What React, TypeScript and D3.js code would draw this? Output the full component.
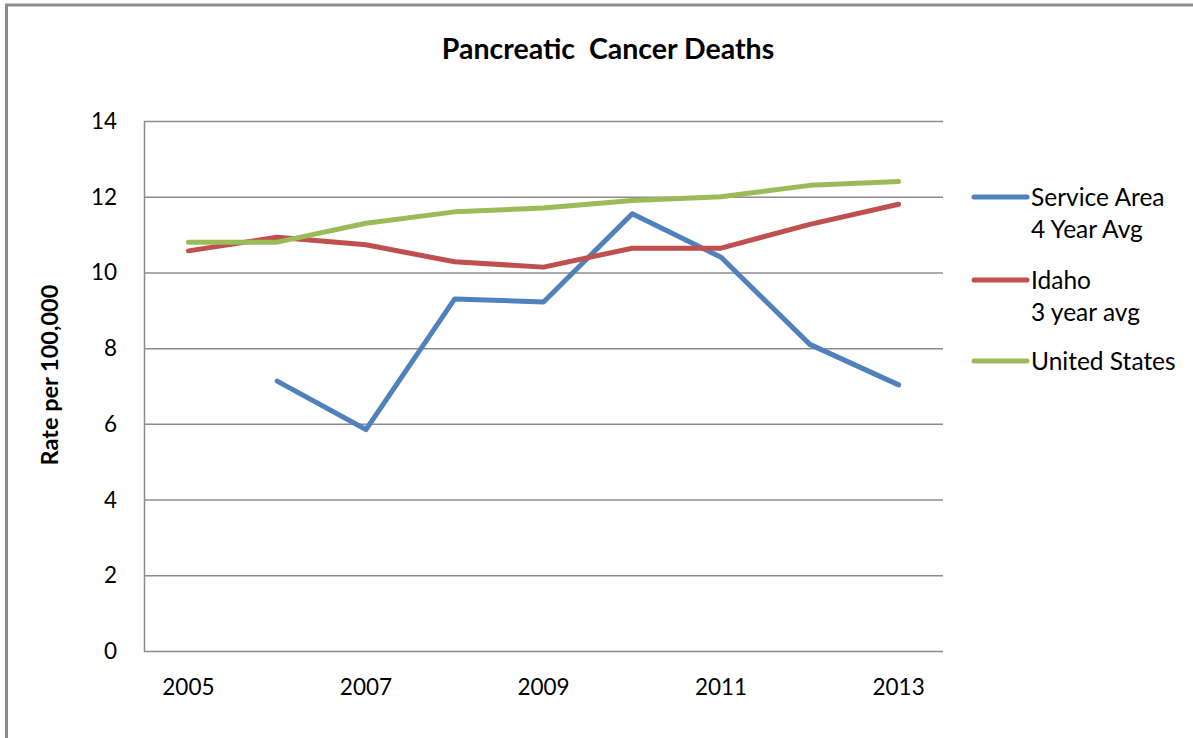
import React, { useEffect, useRef } from 'react';
import * as d3 from 'd3';

const years = ['2005', '2006', '2007', '2008', '2009', '2010', '2011', '2012', '2013'];
const xTickLabels = ['2005', '2007', '2009', '2011', '2013'];
const yTicks = [0, 2, 4, 6, 8, 10, 12, 14];

const serviceArea: (number | null)[] = [null, 7.13, 5.85, 9.3, 9.22, 11.55, 10.4, 8.1, 7.03];
const idaho: (number | null)[] = [10.57, 10.93, 10.73, 10.28, 10.14, 10.64, 10.64, 11.27, 11.8];
const unitedStates: (number | null)[] = [10.8, 10.8, 11.3, 11.6, 11.7, 11.9, 12.0, 12.3, 12.4];

const seriesNames = [['Service Area', '4 Year Avg'], ['Idaho', '3 year avg'], ['United States']];
const seriesColors = ['#4F81BD', '#C0504D', '#9BBB59'];

const FONT = 'Lato, "Open Sans", sans-serif';

export default function App() {
  const ref = useRef<SVGSVGElement>(null);

  useEffect(() => {
    if (!ref.current) return;
    const svg = d3.select(ref.current);
    svg.selectAll('*').remove();

    const W = 1193, H = 738;
    const left = 144, right = 943, top = 121, bottom = 651;

    // outer frame
    svg.append('rect')
      .attr('x', 6.5).attr('y', 5)
      .attr('width', W + 20).attr('height', H + 20)
      .attr('fill', 'white')
      .attr('stroke', '#8c8c8c')
      .attr('stroke-width', 3);

    const x = d3.scaleBand().domain(years).range([left, right]);
    const y = d3.scaleLinear().domain([0, 14]).range([bottom, top]);

    // gridlines
    svg.append('g')
      .selectAll('line')
      .data(yTicks)
      .join('line')
      .attr('x1', left).attr('x2', right)
      .attr('y1', d => y(d) + 0.5).attr('y2', d => y(d) + 0.5)
      .attr('stroke', '#8c8c8c')
      .attr('stroke-width', 1.5);

    // left axis line
    svg.append('line')
      .attr('x1', left + 0.5).attr('x2', left + 0.5)
      .attr('y1', top).attr('y2', bottom + 1)
      .attr('stroke', '#8c8c8c')
      .attr('stroke-width', 1.5);

    // y tick labels
    svg.append('g')
      .selectAll('text')
      .data(yTicks)
      .join('text')
      .attr('x', 117)
      .attr('y', d => y(d) + 8)
      .attr('text-anchor', 'end')
      .attr('font-family', FONT)
      .attr('font-size', 22.5)
      .attr('fill', '#000')
      .text(d => d);

    // x tick labels
    svg.append('g')
      .selectAll('text')
      .data(xTickLabels)
      .join('text')
      .attr('x', d => x(d)! + x.bandwidth() / 2)
      .attr('y', 695)
      .attr('text-anchor', 'middle')
      .attr('font-family', FONT)
      .attr('font-size', 22.5)
      .attr('fill', '#000')
      .text(d => d);

    // title
    svg.append('text')
      .attr('x', 608).attr('y', 59)
      .attr('text-anchor', 'middle')
      .attr('font-family', FONT)
      .attr('font-size', 28.5)
      .attr('font-weight', 'bold')
      .style('white-space', 'pre')
      .text('Pancreatic  Cancer Deaths');

    // y axis title
    svg.append('text')
      .attr('transform', 'translate(58,375) rotate(-90)')
      .attr('text-anchor', 'middle')
      .attr('font-family', FONT)
      .attr('font-size', 23.5)
      .attr('font-weight', 'bold')
      .text('Rate per 100,000');

    const line = d3.line<number | null>()
      .defined(d => d != null)
      .x((_, i) => x(years[i])! + x.bandwidth() / 2)
      .y(d => y(d as number));

    const allSeries = [serviceArea, idaho, unitedStates];
    allSeries.forEach((s, i) => {
      svg.append('path')
        .datum(s)
        .attr('d', line)
        .attr('fill', 'none')
        .attr('stroke', seriesColors[i])
        .attr('stroke-width', 5)
        .attr('stroke-linejoin', 'round')
        .attr('stroke-linecap', 'round');
    });

    // legend
    const legendY = [197, 280, 361];
    seriesNames.forEach((names, i) => {
      const ly = legendY[i];
      svg.append('line')
        .attr('x1', 974).attr('x2', 1027)
        .attr('y1', ly).attr('y2', ly)
        .attr('stroke', seriesColors[i])
        .attr('stroke-width', 5)
        .attr('stroke-linecap', 'round');
      names.forEach((n, j) => {
        svg.append('text')
          .attr('x', 1031)
          .attr('y', ly + 9 + j * 32)
          .attr('font-family', FONT)
          .attr('font-size', 24.5)
          .attr('fill', '#000')
          .text(n);
      });
    });
  }, []);

  return (
    <svg ref={ref} width={1193} height={738}
      style={{ position: 'absolute', left: 0, top: 0, background: 'white' }} />
  );
}
